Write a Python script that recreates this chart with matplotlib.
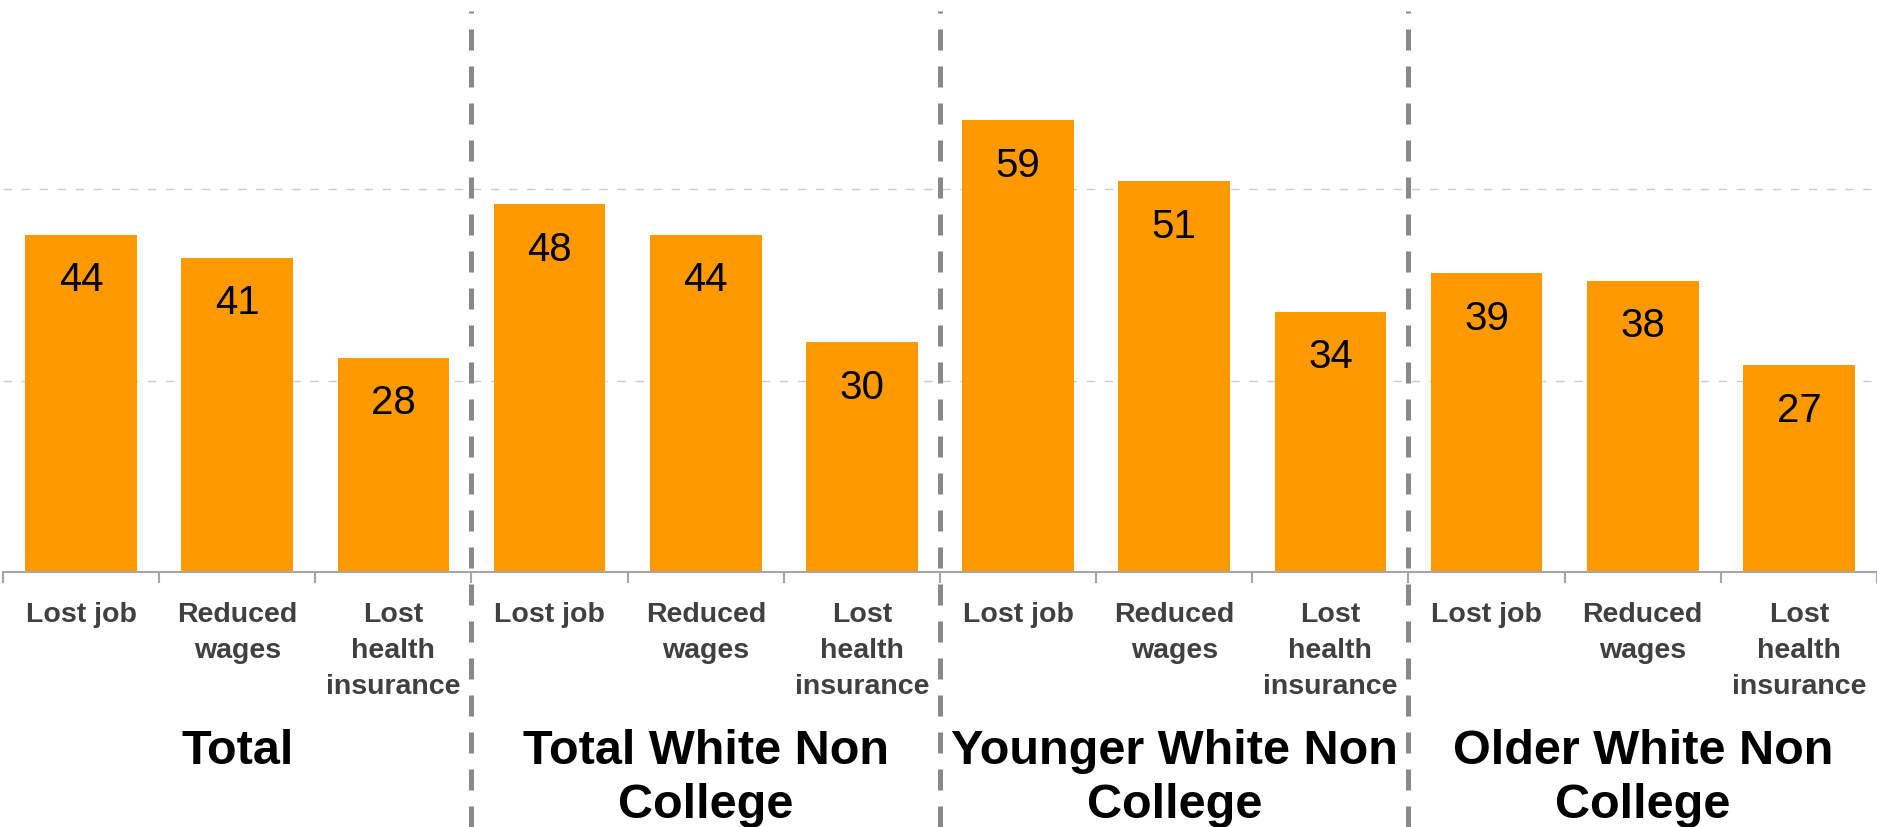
"""
Recreate the grouped bar chart of job / wage / insurance losses.
"""
import matplotlib
matplotlib.use('Agg')
import matplotlib.pyplot as plt
import numpy as np

# data
groups = ['Total', 'Total White Non\nCollege', 'Younger White Non\nCollege', 'Older White Non\nCollege']
categories = ['Lost job', 'Reduced\nwages', 'Lost\nhealth\ninsurance']
values = [44, 41, 28,
          48, 44, 30,
          59, 51, 34,
          39, 38, 27]

plt.rcParams['font.family'] = ['Liberation Sans', 'DejaVu Sans']

W, H = 1877, 828
fig = plt.figure(figsize=(W / 100, H / 100), dpi=100)
# px: axis left 3, baseline 573, category width ~156.8
cat_px = 156.8
ax = fig.add_axes([3 / W, 1 - 573 / H, (W - 3) / W, 573 / H])

x = np.arange(len(values))
ax.bar(x, values, width=0.715, color='#FF9900', zorder=2)
ax.set_xlim(-0.5, -0.5 + (W - 3) / cat_px)
ax.set_ylim(0, 573 / 7.66)

# dashed light grid at 25 and 50
for yv in [25, 50]:
    ax.axhline(yv, color='#CCCCCC', lw=1, ls=(0, (6, 7)), zorder=1)

for s in ['top', 'right', 'left']:
    ax.spines[s].set_visible(False)
ax.spines['bottom'].set_color('#A6A6A6')
ax.spines['bottom'].set_linewidth(1.5)
ax.set_yticks([])

# category labels at centres, tick marks at boundaries
ax.set_xticks(x)
ax.set_xticklabels(categories * len(groups), fontsize=20.5, fontweight='bold',
                   color='#404040', linespacing=1.5)
ax.tick_params(axis='x', which='major', length=0, pad=21)
ax.set_xticks(np.arange(-0.5, len(values), 1), minor=True)
ax.tick_params(axis='x', which='minor', length=8, color='#A6A6A6', width=1.5)

# value labels inside bar tops
for xi, v in zip(x, values):
    ax.annotate(str(v), (xi, v), xytext=(0, -32), textcoords='offset points',
                ha='center', va='center', fontsize=29, color='black')

# group separators
for b in [2.5, 5.5, 8.5]:
    ax.axvline(b, ymin=-255 / 573, ymax=(573 - 12) / 573, color='#898989',
               lw=3.6, ls=(0, (4.2, 3.2)), clip_on=False, zorder=3)

# group names
for gi, g in enumerate(groups):
    ax.text(gi * 3 + 1, -156 / 7.66, g, ha='center', va='top', fontsize=35,
            fontweight='bold', color='black', linespacing=1.27)

fig.savefig('out.png', dpi=100)
